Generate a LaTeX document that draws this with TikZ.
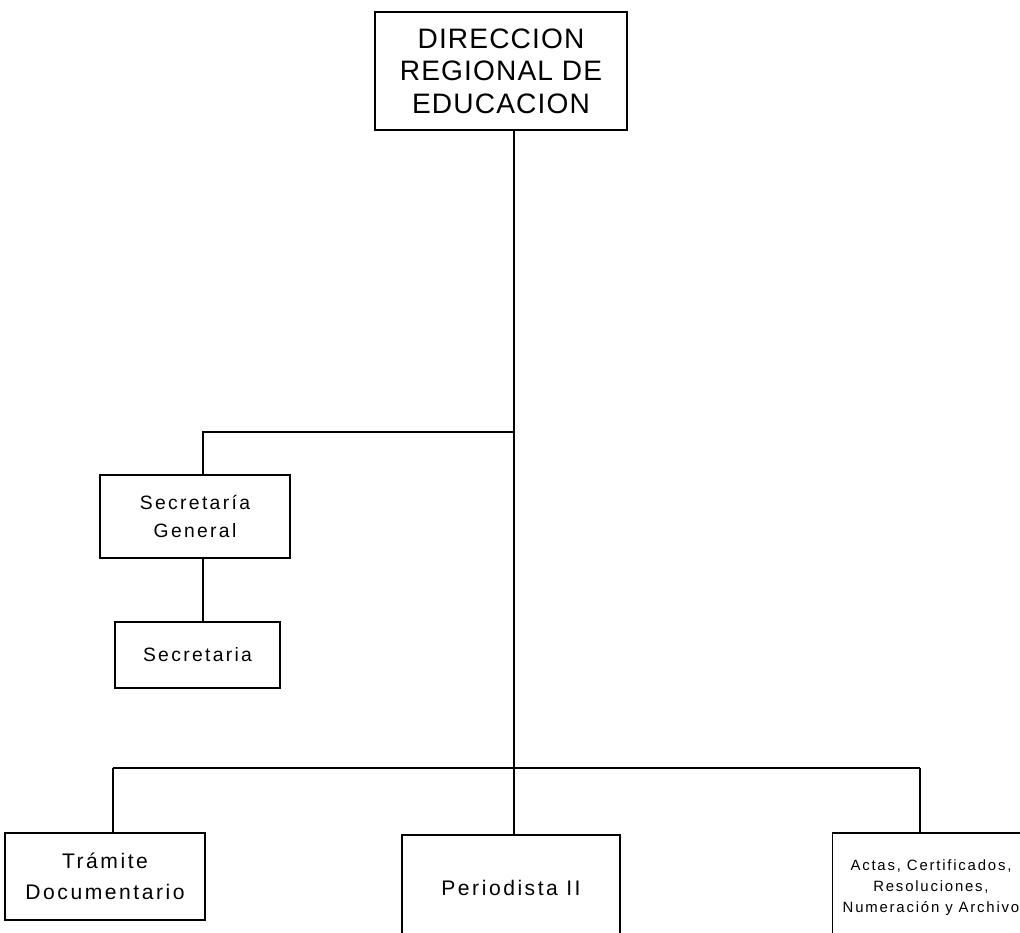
\documentclass[tikz,border=0pt]{standalone}
\usepackage{fontspec}
\setmainfont{Liberation Sans}
\newfontfamily\wideface[LetterSpace=12]{Liberation Sans}
\newfontfamily\headface[LetterSpace=4]{Liberation Sans}
\begin{document}
\begin{tikzpicture}[
    unitbox/.style={draw, thick, align=center, inner sep=0pt, font=\wideface},
    link/.style={thick}
]
    \useasboundingbox (0,0) rectangle (20.4,-18.66);

    % Head office
    \node[unitbox, minimum width=5.04cm, minimum height=2.36cm, font=\headface\fontsize{16}{18.5}\selectfont] (dre) at (10.02,-1.42)
        {DIRECCION\\REGIONAL DE\\EDUCACION};

    % Secretary branch
    \node[unitbox, minimum width=3.8cm, minimum height=1.66cm, font=\wideface\fontsize{11}{16}\selectfont] (secgen) at (3.9,-10.33)
        {Secretaría\\General};
    \node[unitbox, minimum width=3.3cm, minimum height=1.32cm, font=\wideface\fontsize{11}{14}\selectfont] (sec) at (3.95,-13.1)
        {Secretaria};

    % Lower units
    \node[unitbox, minimum width=4cm, minimum height=1.74cm, font=\wideface\fontsize{12}{18}\selectfont] (tramite) at (2.1,-17.53)
        {Trámite\\Documentario};
    \node[unitbox, minimum width=4.36cm, minimum height=2.1cm, font=\wideface\fontsize{12}{18}\selectfont] (perio) at (10.22,-17.75)
        {Periodista II};
    \node[unitbox, minimum width=3.94cm, minimum height=2.2cm, font=\wideface\fontsize{8.5}{12}\selectfont] (actas) at (18.62,-17.76)
        {Actas, Certificados,\\Resoluciones,\\Numeración y Archivo};

    % Junction points
    \coordinate (m1) at (10.28,-8.64);
    \coordinate (s1) at (4.06,-8.64);
    \coordinate (m2) at (10.28,-15.36);
    \coordinate (t2) at (2.26,-15.36);
    \coordinate (a2) at (18.4,-15.36);

    % Connectors
    \draw[link] (dre.south -| m1) -- (perio.north -| m1);
    \draw[link] (m1) -- (s1) -- (secgen.north -| s1);
    \draw[link] (secgen.south -| s1) -- (sec.north -| s1);
    \draw[link] (t2) -- (a2);
    \draw[link] (t2) -- (tramite.north -| t2);
    \draw[link] (a2) -- (actas.north -| a2);
\end{tikzpicture}
\end{document}
